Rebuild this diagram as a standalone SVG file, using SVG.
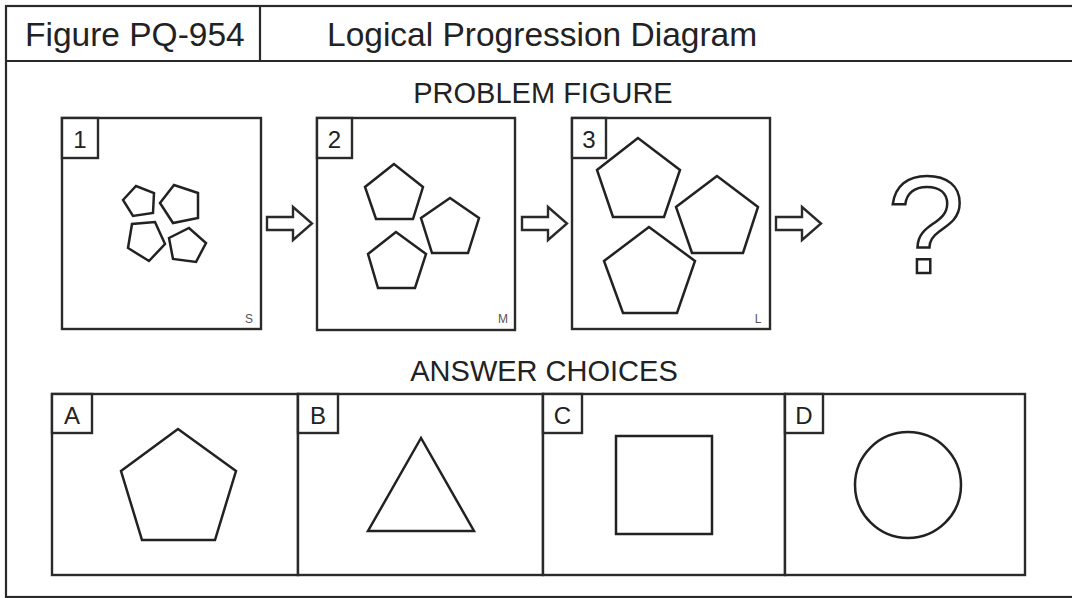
<svg xmlns="http://www.w3.org/2000/svg" width="1072" height="598" viewBox="0 0 1072 598">
<defs>
<style>
.ln{fill:none;stroke:#2a2a2a;stroke-width:2.2}
.box{fill:#fff;stroke:#2a2a2a;stroke-width:2.4}
.shape{fill:none;stroke:#222;stroke-width:2.5;stroke-linejoin:miter}
.t{font-family:"Liberation Sans",Arial,sans-serif;fill:#222}
.lab{font-family:"Liberation Sans",Arial,sans-serif;fill:#222;font-size:24px;text-anchor:middle}
.sz{font-family:"Liberation Sans",Arial,sans-serif;fill:#555;font-size:12px;text-anchor:middle}
</style>
<path id="arr" d="M267,217 H293 V207 L312,223.5 L293,240 V230 H267 Z" fill="#fff" stroke="#2a2a2a" stroke-width="2.4" stroke-linejoin="miter"/>
</defs>
<rect width="1072" height="598" fill="#fff"/>
<g id="frame">
<rect x="6" y="6" width="1072" height="591" class="ln"/>
<line x1="6" y1="61" x2="1072" y2="61" class="ln"/>
<line x1="260" y1="6" x2="260" y2="61" class="ln"/>
<text x="25" y="46" class="t" font-size="33.5">Figure PQ-954</text>
<text x="327" y="46" class="t" font-size="33.5">Logical Progression Diagram</text>
<text x="543" y="103" class="t" font-size="29" text-anchor="middle">PROBLEM FIGURE</text>
<text x="544" y="381" class="t" font-size="29" text-anchor="middle">ANSWER CHOICES</text>
</g>
<g id="panel1">
<rect x="62" y="118" width="199" height="211" class="box"/>
<rect x="62" y="118" width="36" height="40" class="box"/>
<text x="80" y="148" class="lab">1</text>
<polygon class="shape" points="123,200 136,186 154,193 153,213 133,216"/>
<polygon class="shape" points="160,203 174,185 198,193 198,218 173,223"/>
<polygon class="shape" points="128,248 132,224 155,222 165,244 149,261"/>
<polygon class="shape" points="169,238 189,228 206,243 196,262 173,259"/>
<text x="249" y="323" class="sz">S</text>
</g>
<g id="panel2">
<rect x="317" y="118" width="198" height="212" class="box"/>
<rect x="317" y="118" width="35" height="40" class="box"/>
<text x="334.5" y="148" class="lab">2</text>
<polygon class="shape" points="394,164 365,187 376,219 413,219 423,187"/>
<polygon class="shape" points="450,198 421,218 432,253 468,253 479,218"/>
<polygon class="shape" points="396,232 368,254 378,288 415,288 426,254"/>
<text x="503" y="323" class="sz">M</text>
</g>
<g id="panel3">
<rect x="572" y="118" width="198" height="211" class="box"/>
<rect x="572" y="118" width="34" height="40" class="box"/>
<text x="589" y="148" class="lab">3</text>
<polygon class="shape" points="638,138 597,170 613,217 664,217 680,170"/>
<polygon class="shape" points="717,176 676,207 692,253 743,253 758,207"/>
<polygon class="shape" points="649,227 604,261 623,313 677,313 695,261"/>
<text x="758" y="323" class="sz">L</text>
</g>
<g id="unknown">
<text x="926" y="273" font-family="'Liberation Sans',Arial,sans-serif" font-size="140" text-anchor="middle" fill="#fff" stroke="#222" stroke-width="2.5">?</text>
</g>
<g id="connectors">
<use href="#arr"/>
<use href="#arr" transform="translate(255,0)"/>
<use href="#arr" transform="translate(509,0)"/>
</g>
<g id="choiceA">
<rect x="52" y="394" width="246" height="181" class="box"/>
<rect x="52" y="394" width="40" height="39" class="box"/>
<text x="72" y="424" class="lab" font-size="25">A</text>
<polygon class="shape" points="178,429 121,471 142,540 215,540 236,471"/>
</g>
<g id="choiceB">
<rect x="298" y="394" width="245" height="181" class="box"/>
<rect x="298" y="394" width="40" height="39" class="box"/>
<text x="318" y="424" class="lab" font-size="25">B</text>
<polygon class="shape" points="421,438 368,531 474,531"/>
</g>
<g id="choiceC">
<rect x="543" y="394" width="242" height="181" class="box"/>
<rect x="543" y="394" width="39" height="39" class="box"/>
<text x="562.5" y="424" class="lab" font-size="25">C</text>
<rect x="616" y="436" width="96" height="98" class="shape"/>
</g>
<g id="choiceD">
<rect x="785" y="394" width="240" height="181" class="box"/>
<rect x="785" y="394" width="38" height="39" class="box"/>
<text x="804" y="424" class="lab" font-size="25">D</text>
<ellipse cx="908" cy="485" rx="53" ry="53" class="shape"/>
</g>
</svg>
